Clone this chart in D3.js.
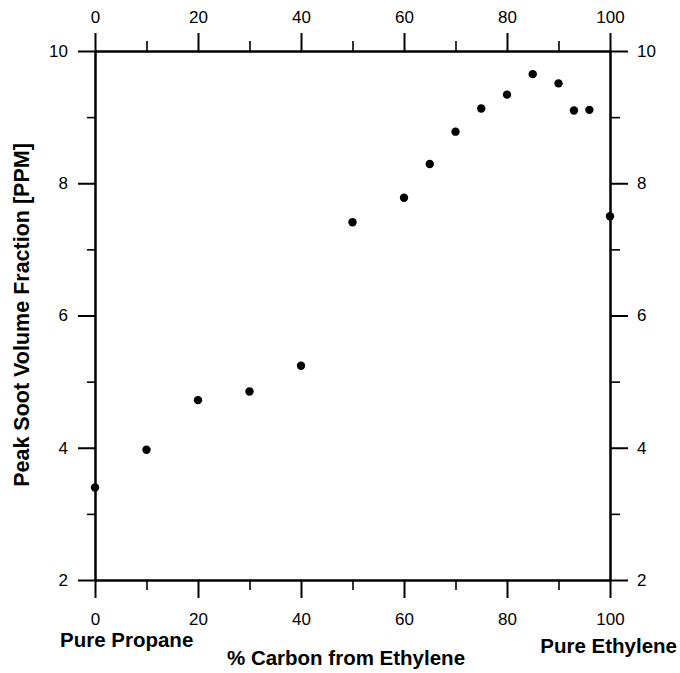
<!DOCTYPE html>
<html>
<head>
<meta charset="utf-8">
<script src="https://cdn.jsdelivr.net/npm/d3@7"></script>
<style>
  html, body { margin: 0; padding: 0; background: #fff; }
  svg { display: block; }
  text { font-family: Arial, "Liberation Sans", Helvetica, sans-serif; fill: #000; }
</style>
</head>
<body>
<svg id="chart" width="680" height="673"></svg>
<script>
// Percent of fuel carbon supplied by ethylene (balance is propane)
const carbonPct = [0, 10, 20, 30, 40, 50, 60, 65, 70, 75, 80, 85, 90, 93, 96, 100];
// Peak soot volume fraction, ppm
const sootPPM = [3.40, 3.97, 4.72, 4.85, 5.24, 7.41, 7.78, 8.29, 8.78, 9.13, 9.34, 9.65, 9.51, 9.10, 9.11, 7.50];

const xMajorTicks = [0, 20, 40, 60, 80, 100];
const xMinorTicks = [10, 30, 50, 70, 90];
const yMajorTicks = [2, 4, 6, 8, 10];
const yMinorTicks = [3, 5, 7, 9];

const xTitle = "% Carbon from Ethylene";
const yTitle = "Peak Soot Volume Fraction [PPM]";
const leftEndLabel = "Pure Propane";
const rightEndLabel = "Pure Ethylene";

const plot = { left: 95, right: 610, top: 51, bottom: 580 };

const svg = d3.select("#chart");

const x = d3.scaleLinear().domain([0, 100]).range([plot.left, plot.right]);
const y = d3.scaleLinear().domain([2, 10]).range([plot.bottom, plot.top]);

const fontSize = 17;

function styleAxis(g, width) {
  g.selectAll("path.domain").attr("stroke", "#000").attr("stroke-width", 2);
  g.selectAll(".tick line").attr("stroke", "#000").attr("stroke-width", width);
  g.selectAll(".tick text").attr("font-size", fontSize).attr("font-family", 'Arial, "Liberation Sans", sans-serif').attr("fill", "#000");
}

// Bottom axis
svg.append("g").attr("transform", `translate(0,${plot.bottom})`)
  .call(d3.axisBottom(x).tickValues(xMinorTicks).tickFormat("").tickSize(10).tickSizeOuter(0))
  .call(g => styleAxis(g, 1.6));
svg.append("g").attr("transform", `translate(0,${plot.bottom})`)
  .call(d3.axisBottom(x).tickValues(xMajorTicks).tickFormat(d3.format("d")).tickSize(18).tickPadding(15).tickSizeOuter(0))
  .call(g => styleAxis(g, 2));

// Top axis
svg.append("g").attr("transform", `translate(0,${plot.top})`)
  .call(d3.axisTop(x).tickValues(xMinorTicks).tickFormat("").tickSize(10).tickSizeOuter(0))
  .call(g => styleAxis(g, 1.6));
svg.append("g").attr("transform", `translate(0,${plot.top})`)
  .call(d3.axisTop(x).tickValues(xMajorTicks).tickFormat(d3.format("d")).tickSize(18).tickPadding(10).tickSizeOuter(0))
  .call(g => styleAxis(g, 2));

// Left axis
svg.append("g").attr("transform", `translate(${plot.left},0)`)
  .call(d3.axisLeft(y).tickValues(yMinorTicks).tickFormat("").tickSize(8).tickSizeOuter(0))
  .call(g => styleAxis(g, 1.6));
svg.append("g").attr("transform", `translate(${plot.left},0)`)
  .call(d3.axisLeft(y).tickValues(yMajorTicks).tickFormat(d3.format("d")).tickSize(17).tickPadding(10).tickSizeOuter(0))
  .call(g => styleAxis(g, 2));

// Right axis
svg.append("g").attr("transform", `translate(${plot.right},0)`)
  .call(d3.axisRight(y).tickValues(yMinorTicks).tickFormat("").tickSize(10).tickSizeOuter(0))
  .call(g => styleAxis(g, 1.6));
svg.append("g").attr("transform", `translate(${plot.right},0)`)
  .call(d3.axisRight(y).tickValues(yMajorTicks).tickFormat(d3.format("d")).tickSize(18).tickPadding(9).tickSizeOuter(0))
  .call(g => styleAxis(g, 2));

// Data points
const points = carbonPct.map((c, i) => ({ c, v: sootPPM[i] }));
svg.append("g").selectAll("circle").data(points).join("circle")
  .attr("cx", d => x(d.c))
  .attr("cy", d => y(d.v))
  .attr("r", 4.2)
  .attr("fill", "#000");

// Titles
svg.append("text")
  .attr("x", 346).attr("y", 665)
  .attr("text-anchor", "middle")
  .attr("font-size", 20.5).attr("font-weight", "bold")
  .text(xTitle);

svg.append("text")
  .attr("x", 60).attr("y", 647)
  .attr("text-anchor", "start")
  .attr("font-size", 20.5).attr("font-weight", "bold")
  .text(leftEndLabel);

svg.append("text")
  .attr("x", 677).attr("y", 653)
  .attr("text-anchor", "end")
  .attr("font-size", 20.5).attr("font-weight", "bold")
  .text(rightEndLabel);

svg.append("text")
  .attr("transform", `translate(29,315) rotate(-90)`)
  .attr("text-anchor", "middle")
  .attr("font-size", 21.5).attr("font-weight", "bold")
  .text(yTitle);
</script>
</body>
</html>
